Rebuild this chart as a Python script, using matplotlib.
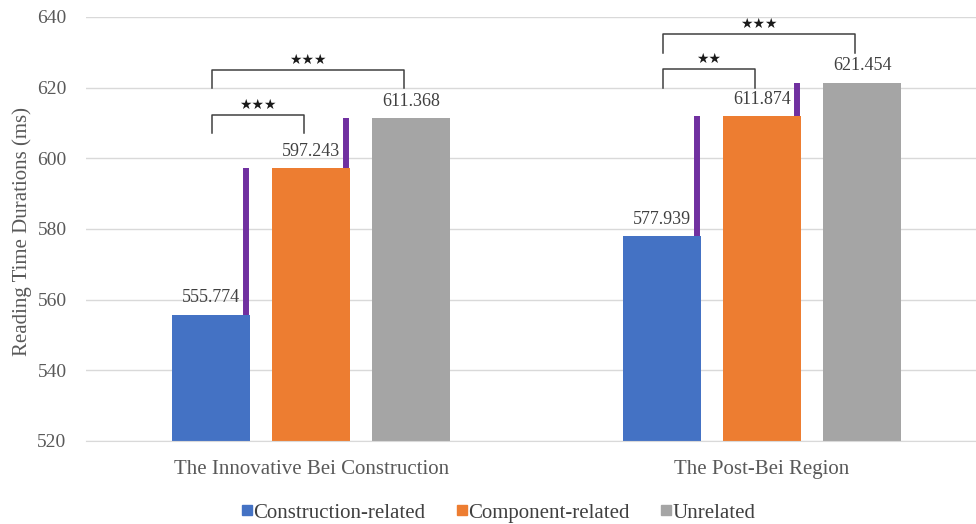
import numpy as np
import matplotlib.pyplot as plt
from matplotlib.lines import Line2D

plt.rcParams['font.family'] = ['Liberation Serif', 'DejaVu Serif']

# dados
regioes = ['The Innovative Bei Construction', 'The Post-Bei Region']
condicoes = ['Construction-related', 'Component-related', 'Unrelated']
construcao = [555.774, 577.939]
componente = [597.243, 611.874]
nao_rel = [611.368, 621.454]

# comparacoes: (regiao, barra_i, barra_j, rotulo)
comparacoes = [(0, 0, 1, '★★★'), (0, 0, 2, '★★★'),
               (1, 0, 1, '★★'), (1, 0, 2, '★★★')]
# alturas dos colchetes (perna, topo)
alturas = [(607.2, 612.3), (619.9, 625.0), (619.9, 625.3), (629.8, 635.1)]

cores = ['#4472C4', '#ED7D31', '#A5A5A5']
roxo = '#7030A0'
cinza_txt = '#595959'

series = [construcao, componente, nao_rel]
x = np.arange(len(regioes))
w = 0.173
desl = [-0.222, 0, 0.222]

fig = plt.figure(figsize=(9.76, 5.24), dpi=100)
ax = fig.add_axes([0.0881, 0.1584, 0.9119, 0.8092])

for k, (s, c) in enumerate(zip(series, cores)):
    ax.bar(x + desl[k], s, w, color=c, zorder=2)
    for xi, v in zip(x + desl[k], s):
        ax.text(xi, v + 2.3, f'{v:.3f}', ha='center', va='bottom',
                fontsize=13, color='#404040', zorder=2.5)

# linhas roxas: do valor da barra ate o valor da proxima barra
for g in range(len(regioes)):
    for k in range(len(series) - 1):
        xl = x[g] + desl[k] + w / 2 - 0.009
        ax.plot([xl, xl], [series[k][g], series[k + 1][g]], color=roxo,
                lw=4.3, solid_capstyle='butt', zorder=3)

# colchetes de significancia
for (g, i, j, rot), (yb, yt) in zip(comparacoes, alturas):
    x1 = x[g] + desl[i] + 0.002
    x2 = x[g] + desl[j] - 0.0155
    ax.plot([x1, x1, x2, x2], [yb, yt, yt, yb], color='#404040', lw=1.1,
            zorder=4, clip_on=False)
    ax.text((x1 + x2) / 2, yt + 0.9, rot, ha='center', va='bottom',
            fontsize=10, family='DejaVu Sans', color='#1a1a1a', clip_on=False)

ax.set_ylim(520, 640)
ax.set_yticks(np.arange(520, 641, 20))
ax.set_xlim(-0.5, 1.4745)
ax.set_xticks(x)
ax.set_xticklabels(regioes, fontsize=15, color=cinza_txt)
ax.tick_params(axis='x', length=0, pad=14)
ax.tick_params(axis='y', length=0, pad=14, labelsize=14, labelcolor=cinza_txt)
ax.grid(axis='y', color='#D9D9D9', lw=1.0, zorder=0)
ax.set_axisbelow(True)
for lado in ['top', 'right', 'left']:
    ax.spines[lado].set_visible(False)
ax.spines['bottom'].set_color('#D9D9D9')

fig.text(0.0225, 0.559, 'Reading Time Durations (ms)', rotation=90,
         ha='center', va='center', fontsize=15, color=cinza_txt)

alcas = [Line2D([], [], marker='s', ls='', color=c, markersize=7.2) for c in cores]
fig.legend(alcas, condicoes, loc='center', bbox_to_anchor=(0.51, 0.021),
           ncol=3, frameon=False, fontsize=15, handletextpad=0.0,
           columnspacing=1.45, handlelength=0.6, labelcolor='#404040',
           borderpad=0.1)

plt.savefig('out.png', dpi=100)
